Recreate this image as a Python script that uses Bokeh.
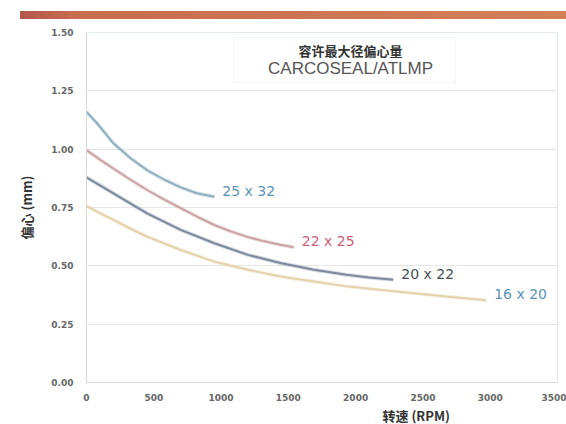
from bokeh.plotting import figure
from bokeh.layouts import column
from bokeh.models import (ColumnDataSource, Label, BoxAnnotation, NumeralTickFormatter,
                          FixedTicker, Range1d, Div, Title)
from bokeh.core.properties import value
from bokeh.embed import file_html
from bokeh.resources import INLINE

title_cn = "容许最大径偏心量"
title_en = "CARCOSEAL/ATLMP"
x_label = "转速 (RPM)"
y_label = "偏心 (mm)"
x_ticks = [0, 500, 1000, 1500, 2000, 2500, 3000, 3500]
y_ticks = [0.0, 0.25, 0.5, 0.75, 1.0, 1.25, 1.5]

series_names = ["25 x 32", "22 x 25", "20 x 22", "16 x 20"]
rpm_25x32 = [0, 80, 200, 330, 450, 575, 700, 820, 950]
ecc_25x32 = [1.16, 1.11, 1.025, 0.96, 0.91, 0.87, 0.836, 0.811, 0.796]
rpm_22x25 = [0, 100, 200, 325, 450, 575, 700, 825, 950, 1070, 1190, 1315, 1440, 1540]
ecc_22x25 = [0.996, 0.955, 0.917, 0.87, 0.825, 0.785, 0.747, 0.71, 0.675, 0.648, 0.625, 0.606, 0.59, 0.58]
rpm_20x22 = [0, 100, 200, 325, 450, 700, 950, 1200, 1440, 1690, 1930, 2100, 2280]
ecc_20x22 = [0.879, 0.845, 0.811, 0.768, 0.725, 0.654, 0.597, 0.547, 0.512, 0.483, 0.462, 0.45, 0.44]
rpm_16x20 = [0, 100, 200, 325, 450, 700, 950, 1200, 1440, 1690, 1930, 2180, 2430, 2670, 2970]
ecc_16x20 = [0.756, 0.726, 0.697, 0.66, 0.625, 0.568, 0.518, 0.483, 0.454, 0.433, 0.412, 0.397, 0.383, 0.369, 0.352]

line_colors = ["#8fb0bd", "#c9a3a6", "#7d8a9c", "#e2d3ab"]
label_colors = ["#5b93b8", "#cf5f78", "#4a4f57", "#5b93b8"]

rpms = [rpm_25x32, rpm_22x25, rpm_20x22, rpm_16x20]
eccs = [ecc_25x32, ecc_22x25, ecc_20x22, ecc_16x20]

bar = Div(text="", width=546, height=8, margin=(11, 0, 1, 20),
          styles={"background": "linear-gradient(to right, #b4554a 0%, #c76c4e 10%, #d27f56 100%)"})

p = figure(width=566, height=404, x_range=Range1d(0, 3500), y_range=Range1d(0, 1.5),
           output_backend="svg", toolbar_location=None,
           min_border_left=86, min_border_right=9, min_border_top=12, min_border_bottom=41)
p.background_fill_color = "white"
p.border_fill_color = "white"
p.outline_line_color = "#e4ece8"

p.xgrid.grid_line_color = None
p.ygrid.grid_line_color = "#e6e6e6"
p.ygrid.grid_line_width = 1

p.xaxis.ticker = FixedTicker(ticks=x_ticks)
p.yaxis.ticker = FixedTicker(ticks=y_ticks)
p.yaxis.formatter = NumeralTickFormatter(format="0.00")
for ax in (p.xaxis, p.yaxis):
    ax.major_tick_line_color = None
    ax.minor_tick_line_color = None
    ax.major_tick_out = 0
    ax.major_tick_in = 0
    ax.minor_tick_out = 0
    ax.axis_line_color = "#d8d8d8"
    ax.major_label_text_font = "DejaVu Sans"
    ax.major_label_text_font_size = "9px"
    ax.major_label_text_font_style = "bold"
    ax.major_label_text_color = "#666666"
p.xaxis.major_label_standoff = 11
p.yaxis.major_label_standoff = 13

p.yaxis.axis_label = y_label
p.yaxis.axis_label_text_font = "Noto Sans CJK SC"
p.yaxis.axis_label_text_font_size = "13px"
p.yaxis.axis_label_text_font_style = "bold"
p.yaxis.axis_label_text_color = "#333333"
p.yaxis.axis_label_standoff = 12

p.add_layout(Title(text=x_label, align="left", offset=296, standoff=0,
                   text_font="Noto Sans CJK SC", text_font_size="13px",
                   text_font_style="bold", text_color="#333333"), "below")

# title box
p.add_layout(BoxAnnotation(left=1092, right=2742, top=1.479, bottom=1.286,
                           fill_color="white", fill_alpha=1.0, line_color="#e2e2e2", line_width=1))
p.add_layout(Label(x=1962, y=1.423, text=title_cn,
                   text_font="Noto Sans CJK SC", text_font_size="13px", text_font_style="bold",
                   text_color="#333333", text_align="center", text_baseline="middle"))
p.add_layout(Label(x=1962, y=1.346, text=title_en,
                   text_font="Liberation Sans", text_font_size="17px",
                   text_color="#555555", text_align="center", text_baseline="middle"))

for r, e, c in zip(rpms, eccs, line_colors):
    src = ColumnDataSource(dict(x=r, y=e))
    p.line("x", "y", source=src, line_color=c, line_width=4, line_alpha=0.3)
    p.line("x", "y", source=src, line_color=c, line_width=2)

end_src = ColumnDataSource(dict(x=[r[-1] for r in rpms], y=[e[-1] for e in eccs],
                                name=series_names, color=label_colors))
p.text("x", "y", text="name", source=end_src, text_color="color", x_offset=8, y_offset=-6,
       text_font=value("DejaVu Sans"), text_font_size="14px",
       text_align="left", text_baseline="middle")

root = column(bar, p, spacing=0)
open("out.html", "w").write(file_html(root, INLINE))
